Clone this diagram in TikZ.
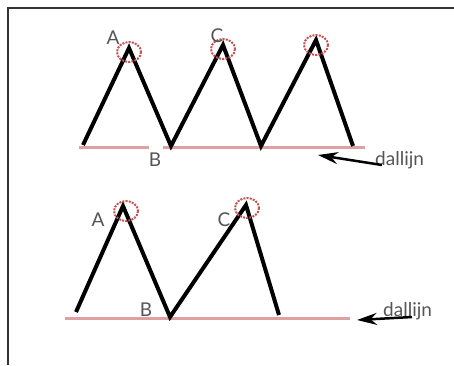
\documentclass[tikz,border=0pt]{standalone}
\usepackage{fontspec}
\setmainfont{Lato}
\usetikzlibrary{arrows.meta, calc}
\definecolor{DalPink}{RGB}{222,160,160}
\definecolor{TopRed}{RGB}{200,80,80}
\definecolor{LblGray}{RGB}{85,85,85}

\begin{document}
\begin{tikzpicture}[x=1pt, y=-1pt,
          zig/.style={line width=4pt, black, line join=miter},
          dal/.style={line width=3pt, DalPink},
          top/.style={draw=TopRed, line width=2pt, dash pattern=on 2pt off 1.2pt},
          lbl/.style={font=\fontsize{19}{22}\selectfont, text=LblGray, inner sep=0pt},
          arr/.style={-{Stealth[length=20pt, width=12pt]}, line width=2.5pt, black}
        ]
        \useasboundingbox (0,0) rectangle (454,365);
        \draw[line width=2pt, black!80] (8,365) -- (8,8) -- (454,8);

        % bovenste tekening
        \coordinate (u0) at (83,145);
        \coordinate (uA) at (129,48);
        \coordinate (uB) at (171,146);
        \coordinate (uC) at (223,45);
        \coordinate (u4) at (261,146);
        \coordinate (u5) at (316,40);
        \coordinate (u6) at (353,146);
        \draw[dal] (79,147) -- (149,147);
        \draw[dal] (163,147) -- (365,147);
        \draw[zig] (u0) -- (uA) -- (uB) -- (uC) -- (u4) -- (u5) -- (u6);
        \draw[top] ($(uA)+(0,4)$) ellipse (12 and 10);
        \draw[top] ($(uC)+(0,4)$) ellipse (12 and 10);
        \draw[top] ($(u5)+(0,5)$) ellipse (12 and 10);
        \node[lbl] (uLa) at (113,38) {A};
        \node[lbl] (uLc) at (217,36) {C};
        \node[lbl] (uLb) at (155,160) {B};
        \node[lbl, anchor=west] (uDal) at (375,160) {dallijn};
        \coordinate (uPt) at (318,155);
        \draw[arr] ($(uDal.west)+(7,5)$) -- (uPt);

        % onderste tekening
        \coordinate (l0) at (76,312);
        \coordinate (lA) at (123,206);
        \coordinate (lB) at (170,317);
        \coordinate (lC) at (246,205);
        \coordinate (l4) at (279,315);
        \draw[dal] (65,318) -- (350,318);
        \draw[zig] (l0) -- (lA) -- (lB) -- (lC) -- (l4);
        \draw[top] ($(lA)+(3,5)$) ellipse (12 and 10);
        \draw[top] ($(lC)+(1,3)$) ellipse (12 and 10);
        \node[lbl] (lLa) at (98,220) {A};
        \node[lbl] (lLc) at (224,220) {C};
        \node[lbl] (lLb) at (146,310) {B};
        \node[lbl, anchor=west] (lDal) at (383,311) {dallijn};
        \coordinate (lPt) at (357,320);
        \draw[arr] ($(lDal.west)+(29,6)$) -- (lPt);
      \end{tikzpicture}
\end{document}
